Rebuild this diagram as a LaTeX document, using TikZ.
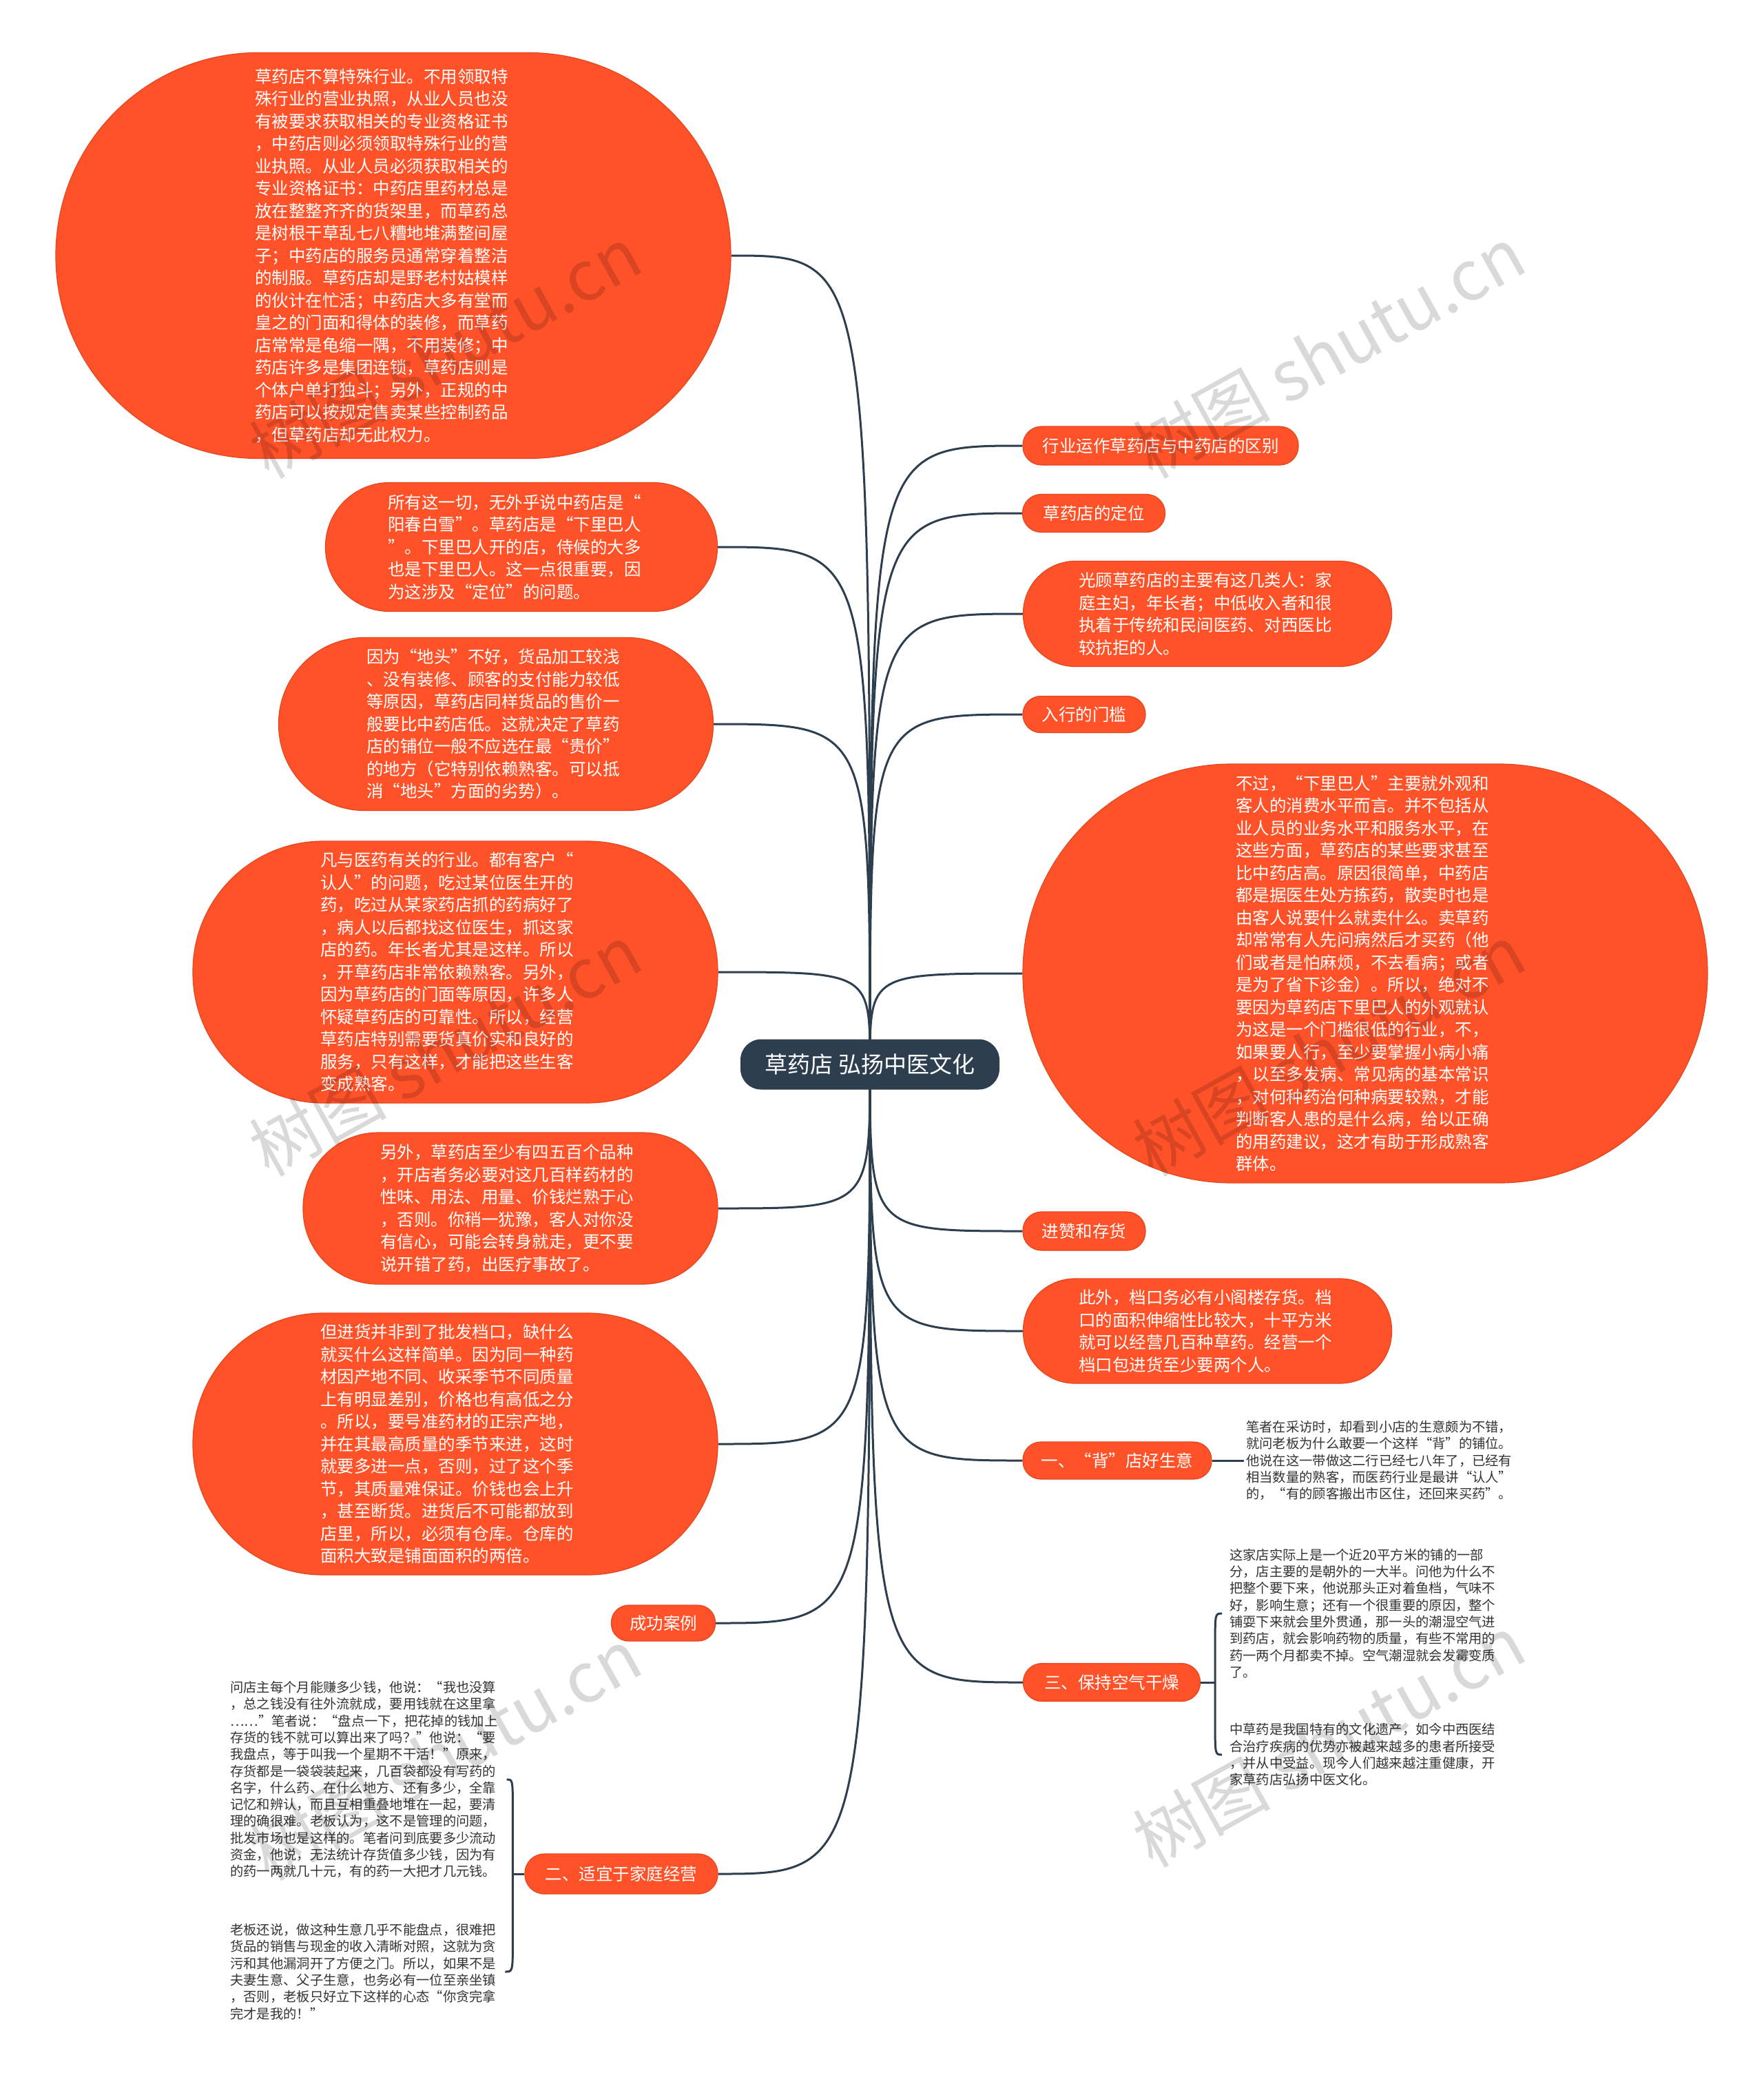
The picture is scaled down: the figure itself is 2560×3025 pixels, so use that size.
\documentclass[tikz,border=0pt]{standalone}
\usepackage{fontspec}
\setmainfont{Noto Sans CJK SC}
\usetikzlibrary{calc}
\definecolor{nodeor}{HTML}{FF5229}
\definecolor{nodeedge}{HTML}{E5461F}
\definecolor{hubc}{HTML}{2D3E4F}
\definecolor{linec}{HTML}{2D3E4F}
\definecolor{smalltxt}{HTML}{333333}
\pgfdeclarelayer{bg}
\pgfsetlayers{bg,main}
\begin{document}
\begin{tikzpicture}[x=1pt,y=-1pt,
  topic/.style={fill=nodeor, draw=nodeedge, line width=1.2pt, text=white, align=left, inner sep=0pt, font=\fontsize{24.5}{32.5}\selectfont},
  smalltopic/.style={topic},
  notetext/.style={text=smalltxt, align=left, inner sep=3pt, font=\fontsize{19.3}{24.3}\selectfont},
  conn/.style={draw=linec, line width=3pt},
  wm/.style={text=black, opacity=0.15, font=\fontsize{100}{100}\selectfont, rotate=29}
]
\useasboundingbox (0,0) rectangle (2560,3025);

% central topic
\node[fill=hubc, text=white, rounded corners=30pt, minimum width=376pt, minimum height=73pt, inner sep=0pt, font=\fontsize{33}{38}\selectfont] (ct) at (1263,1545) {草药店 弘扬中医文化};

% left side
\node[topic, minimum width=980pt, minimum height=589pt, rounded corners=294pt, text width=402pt] (l1) at (571,371) {草药店不算特殊行业。不用领取特\\殊行业的营业执照，从业人员也没\\有被要求获取相关的专业资格证书\\，中药店则必须领取特殊行业的营\\业执照。从业人员必须获取相关的\\专业资格证书：中药店里药材总是\\放在整整齐齐的货架里，而草药总\\是树根干草乱七八糟地堆满整间屋\\子；中药店的服务员通常穿着整洁\\的制服。草药店却是野老村姑模样\\的伙计在忙活；中药店大多有堂而\\皇之的门面和得体的装修，而草药\\店常常是龟缩一隅，不用装修；中\\药店许多是集团连锁，草药店则是\\个体户单打独斗；另外，正规的中\\药店可以按规定售卖某些控制药品\\，但草药店却无此权力。};

\node[topic, minimum width=569pt, minimum height=187pt, rounded corners=93pt, text width=388pt] (l2) at (757,794) {所有这一切，无外乎说中药店是“\\阳春白雪”。草药店是“下里巴人\\”。下里巴人开的店，侍候的大多\\也是下里巴人。这一点很重要，因\\为这涉及“定位”的问题。};

\node[topic, minimum width=631pt, minimum height=251pt, rounded corners=125pt, text width=376pt] (l3) at (720,1051) {因为“地头”不好，货品加工较浅\\、没有装修、顾客的支付能力较低\\等原因，草药店同样货品的售价一\\般要比中药店低。这就决定了草药\\店的铺位一般不应选在最“贵价”\\的地方（它特别依赖熟客。可以抵\\消“地头”方面的劣势）。};

\node[topic, minimum width=762pt, minimum height=380pt, rounded corners=189pt, text width=392pt] (l4) at (661,1411) {凡与医药有关的行业。都有客户“\\认人”的问题，吃过某位医生开的\\药，吃过从某家药店抓的药病好了\\，病人以后都找这位医生，抓这家\\店的药。年长者尤其是这样。所以\\，开草药店非常依赖熟客。另外，\\因为草药店的门面等原因，许多人\\怀疑草药店的可靠性。所以，经营\\草药店特别需要货真价实和良好的\\服务，只有这样，才能把这些生客\\变成熟客。};

\node[topic, minimum width=602pt, minimum height=220pt, rounded corners=109pt, text width=378pt] (l5) at (741,1754) {另外，草药店至少有四五百个品种\\，开店者务必要对这几百样药材的\\性味、用法、用量、价钱烂熟于心\\，否则。你稍一犹豫，客人对你没\\有信心，可能会转身就走，更不要\\说开错了药，出医疗事故了。};

\node[topic, minimum width=762pt, minimum height=380pt, rounded corners=189pt, text width=392pt] (l6) at (661,2096) {但进货并非到了批发档口，缺什么\\就买什么这样简单。因为同一种药\\材因产地不同、收采季节不同质量\\上有明显差别，价格也有高低之分\\。所以，要号准药材的正宗产地，\\并在其最高质量的季节来进，这时\\就要多进一点，否则，过了这个季\\节，其质量难保证。价钱也会上升\\，甚至断货。进货后不可能都放到\\店里，所以，必须有仓库。仓库的\\面积大致是铺面面积的两倍。};

\node[smalltopic, minimum width=151pt, minimum height=52pt, rounded corners=25pt] (l7) at (963,2356) {成功案例};

\node[smalltopic, minimum width=280pt, minimum height=58pt, rounded corners=28pt] (l8) at (902,2720) {二、适宜于家庭经营};

\node[notetext, anchor=west] (l8a) at (331,2583) {问店主每个月能赚多少钱，他说：“我也没算\\，总之钱没有往外流就成，要用钱就在这里拿\\……”笔者说：“盘点一下，把花掉的钱加上\\存货的钱不就可以算出来了吗？”他说：“要\\我盘点，等于叫我一个星期不干活！”原来，\\存货都是一袋袋装起来，几百袋都没有写药的\\名字，什么药、在什么地方、还有多少，全靠\\记忆和辨认，而且互相重叠地堆在一起，要清\\理的确很难。老板认为，这不是管理的问题，\\批发市场也是这样的。笔者问到底要多少流动\\资金，他说，无法统计存货值多少钱，因为有\\的药一两就几十元，有的药一大把才几元钱。};

\node[notetext, anchor=west] (l8b) at (331,2862) {老板还说，做这种生意几乎不能盘点，很难把\\货品的销售与现金的收入清晰对照，这就为贪\\污和其他漏洞开了方便之门。所以，如果不是\\夫妻生意、父子生意，也务必有一位至亲坐镇\\，否则，老板只好立下这样的心态“你贪完拿\\完才是我的！”};

% right side
\node[smalltopic, minimum width=400pt, minimum height=56pt, rounded corners=27pt] (r1) at (1685,647) {行业运作草药店与中药店的区别};
\node[smalltopic, minimum width=207pt, minimum height=55pt, rounded corners=27pt] (r2) at (1588,745) {草药店的定位};
\node[topic, minimum width=535pt, minimum height=153pt, rounded corners=76pt, text width=374pt] (r3) at (1753,891) {光顾草药店的主要有这几类人：家\\庭主妇，年长者；中低收入者和很\\执着于传统和民间医药、对西医比\\较抗拒的人。};
\node[smalltopic, minimum width=178pt, minimum height=53pt, rounded corners=26pt] (r4) at (1574,1037) {入行的门槛};
\node[topic, minimum width=994pt, minimum height=608pt, rounded corners=303pt, text width=376pt] (r5) at (1982,1413) {不过，“下里巴人”主要就外观和\\客人的消费水平而言。并不包括从\\业人员的业务水平和服务水平，在\\这些方面，草药店的某些要求甚至\\比中药店高。原因很简单，中药店\\都是据医生处方拣药，散卖时也是\\由客人说要什么就卖什么。卖草药\\却常常有人先问病然后才买药（他\\们或者是怕麻烦，不去看病；或者\\是为了省下诊金）。所以，绝对不\\要因为草药店下里巴人的外观就认\\为这是一个门槛很低的行业，不，\\如果要人行，至少要掌握小病小痛\\，以至多发病、常见病的基本常识\\，对何种药治何种病要较熟，才能\\判断客人患的是什么病，给以正确\\的用药建议，这才有助于形成熟客\\群体。};
\node[smalltopic, minimum width=178pt, minimum height=56pt, rounded corners=27pt] (r6) at (1574,1787) {进赞和存货};
\node[topic, minimum width=535pt, minimum height=152pt, rounded corners=75pt, text width=374pt] (r7) at (1753,1932) {此外，档口务必有小阁楼存货。档\\口的面积伸缩性比较大，十平方米\\就可以经营几百种草药。经营一个\\档口包进货至少要两个人。};
\node[smalltopic, minimum width=274pt, minimum height=54pt, rounded corners=26pt] (r8) at (1622,2120) {一、“背”店好生意};
\node[notetext, anchor=west] (r8a) at (1806,2120) {笔者在采访时，却看到小店的生意颇为不错，\\就问老板为什么敢要一个这样“背”的铺位。\\他说在这一带做这二行已经七八年了，已经有\\相当数量的熟客，而医药行业是最讲“认人”\\的，“有的顾客搬出市区住，还回来买药”。};
\node[smalltopic, minimum width=257pt, minimum height=55pt, rounded corners=27pt] (r9) at (1614,2442) {三、保持空气干燥};
\node[notetext, anchor=west] (r9a) at (1782,2342) {这家店实际上是一个近20平方米的铺的一部\\分，店主要的是朝外的一大半。问他为什么不\\把整个要下来，他说那头正对着鱼档，气味不\\好，影响生意；还有一个很重要的原因，整个\\铺耍下来就会里外贯通，那一头的潮湿空气进\\到药店，就会影响药物的质量，有些不常用的\\药一两个月都卖不掉。空气潮湿就会发霉变质\\了。};
\node[notetext, anchor=west] (r9b) at (1782,2547) {中草药是我国特有的文化遗产，如今中西医结\\合治疗疾病的优势亦被越来越多的患者所接受\\，并从中受益。现今人们越来越注重健康，开\\家草药店弘扬中医文化。};

% connectors
\begin{pgfonlayer}{bg}
\fill[white] (0,0) rectangle (2560,3025);
\foreach \t in {l1,l2,l3,l4,l5,l6,l7,l8}
  \draw[conn] (ct.center) .. controls (ct.center |- \t.east) .. (\t.east);
\foreach \t in {r1,r2,r3,r4,r5,r6,r7,r8,r9}
  \draw[conn] (ct.center) .. controls (ct.center |- \t.west) .. (\t.west);
\end{pgfonlayer}

% sub connectors / braces
\draw[conn] (r8.east) -- (r8a.west);
\draw[conn] (l8.west) -- ++(-17,0) coordinate (l8m);
\draw[conn] ([xshift=10pt]l8a.east) .. controls (l8m |- l8a.east) .. ($(l8m |- l8a.east)+(0,45)$) -- ($(l8m |- l8b.east)+(0,-45)$) .. controls (l8m |- l8b.east) .. ([xshift=10pt]l8b.east);
\draw[conn] (r9.east) -- ++(21,0) coordinate (r9m);
\draw[conn] ([xshift=-8pt]r9a.west) .. controls (r9m |- r9a.west) .. ($(r9m |- r9a.west)+(0,45)$) -- ($(r9m |- r9b.west)+(0,-45)$) .. controls (r9m |- r9b.west) .. ([xshift=-8pt]r9b.west);

% watermarks
\node[wm] (w1) at (646,511) {树图 shutu.cn};
\node[wm] (w2) at (1929,511) {树图 shutu.cn};
\node[wm] (w3) at (646,1524) {树图 shutu.cn};
\node[wm] (w4) at (1929,1524) {树图 shutu.cn};
\node[wm] (w5) at (646,2546) {树图 shutu.cn};
\node[wm] (w6) at (1929,2527) {树图 shutu.cn};
\end{tikzpicture}
\end{document}
